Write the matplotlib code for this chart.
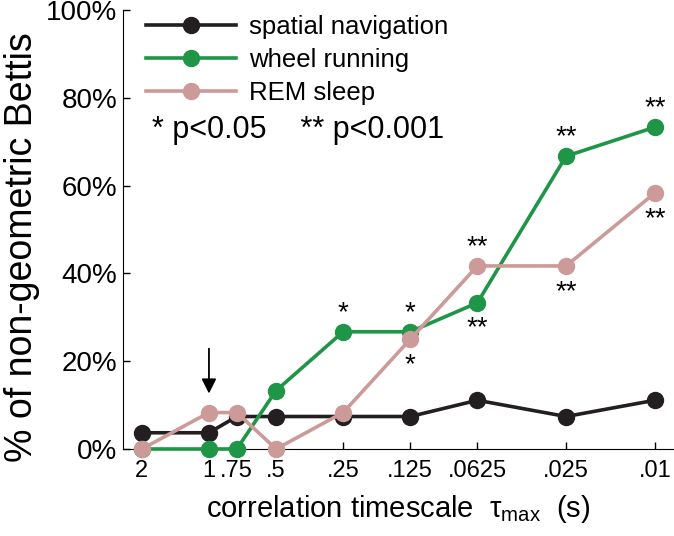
import numpy as np
import matplotlib
matplotlib.use("Agg")
import matplotlib.pyplot as plt

plt.rcParams['font.family'] = ['Liberation Sans', 'DejaVu Sans']
plt.rcParams['mathtext.fontset'] = 'custom'
plt.rcParams['mathtext.rm'] = 'Liberation Sans'
plt.rcParams['mathtext.it'] = 'Liberation Sans'

# correlation timescale values (s)
timescales = [2, 1, .75, .5, .25, .125, .0625, .025, .01]
tick_labels = ["2", "1", ".75", ".5", ".25", ".125", ".0625", ".025", ".01"]

# % of non-geometric Bettis
spatial = [3.7, 3.7, 7.4, 7.4, 7.4, 7.4, 11.1, 7.4, 11.1]
wheel = [0, 0, 0, 13.3, 26.7, 26.7, 33.3, 66.7, 73.3]
rem = [0, 8.3, 8.3, 0, 8.3, 25.0, 41.7, 41.7, 58.3]

# significance marks: (index, label, above?)
wheel_sig = [(4, "*", True), (5, "*", True), (6, "**", False), (7, "**", True), (8, "**", True)]
rem_sig = [(5, "*", False), (6, "**", True), (7, "**", False), (8, "**", False)]

c_black = "#231f20"
c_green = "#1f9547"
c_pink = "#cc9a98"

fig = plt.figure(figsize=(6.74, 5.36), dpi=100)
ax = fig.add_axes([123 / 674, 87 / 536, 551 / 674, 439 / 536])

kw = dict(lw=2.6, marker="o", ms=11.5, clip_on=False)
ax.plot(timescales, spatial, color=c_black, label="spatial navigation", zorder=3, **kw)
ax.plot(timescales, wheel, color=c_green, label="wheel running", zorder=4, **kw)
ax.plot(timescales, rem, color=c_pink, label="REM sleep", zorder=5, **kw)

for i, s, up in wheel_sig:
    ax.annotate(s, (timescales[i], wheel[i]), xytext=(0, 4 if up else -28),
                textcoords="offset points", ha="center", va="bottom", fontsize=20)
for i, s, up in rem_sig:
    ax.annotate(s, (timescales[i], rem[i]), xytext=(0, 4 if up else -28),
                textcoords="offset points", ha="center", va="bottom", fontsize=20)

# arrow marking tau = 1 s
ax.annotate("", xy=(1, 12), xytext=(1, 23.5),
            arrowprops=dict(arrowstyle="-|>", color="black", lw=1.3, mutation_scale=22))

ax.set_xscale("log")
ax.set_xlim(2.43, 0.0082)
ax.set_ylim(0, 100)
ax.set_xticks(timescales)
ax.set_xticklabels(tick_labels, fontsize=17)
ax.minorticks_off()
ax.set_yticks(np.arange(0, 101, 20))
ax.set_yticklabels([f"{v}%" for v in range(0, 101, 20)], fontsize=20)
ax.tick_params(direction="in", length=5, width=1)
ax.tick_params(axis="x", pad=8)
ax.tick_params(axis="y", pad=4)

ax.spines["top"].set_visible(False)
ax.spines["right"].set_visible(False)

ax.set_xlabel(r"correlation timescale  $\tau_{\rm max}$  (s)", fontsize=21, labelpad=8)
ax.set_ylabel("% of non-geometric Bettis", fontsize=27)
ax.yaxis.set_label_coords(-0.15, 0.46)

ax.legend(loc="upper left", bbox_to_anchor=(0.023, 1.012), frameon=False, fontsize=18.5,
          handlelength=3.5, handletextpad=0.5, labelspacing=0.35, borderaxespad=0)
ax.text(0.053, 0.727, "* p<0.05    ** p<0.001", transform=ax.transAxes,
        fontsize=22, va="center", ha="left")

fig.savefig("out.png", dpi=100)
